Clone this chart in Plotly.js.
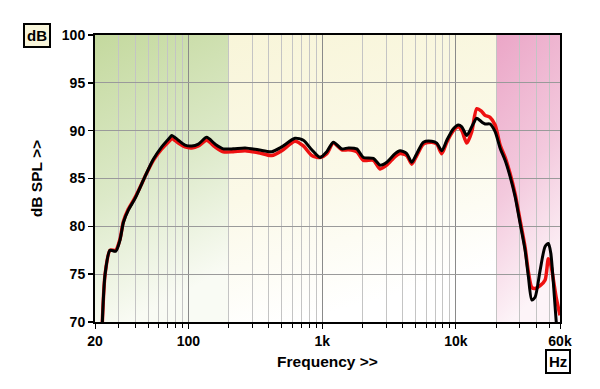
<!DOCTYPE html>
<html>
<head>
<meta charset="utf-8">
<script src="https://cdn.plot.ly/plotly-3.0.1.min.js"></script>
<style>html,body{margin:0;padding:0;background:#fff;}#chart{width:600px;height:389px;}</style>
</head>
<body>
<div id="chart"></div>
<script>
// Frequencies (Hz) sampled along the curves
const freqs = [22.7, 23.8, 25.9, 28.6, 30.8, 32.6, 35.5, 39.8, 45.9, 47.3, 54.6, 63.1, 72.8, 75, 84, 94.2, 105.8, 118.6, 136.8, 158, 182, 216, 265, 333, 419, 498, 626, 723, 836, 964, 1082, 1211, 1400, 1570, 1812, 2032, 2414, 2710, 3040, 3508, 3820, 4286, 4676, 5094, 5712, 6596, 7190, 7836, 8548, 9572, 10432, 11060, 12052, 13132, 14320, 15600, 16520, 17990, 19630, 21380, 23320, 25420, 27700, 30200, 32900, 34840, 36940, 39080, 42600, 46440, 49120, 51200, 53580, 56100, 60000];
// Black curve (dB SPL)
const blackDb = [70.0, 75.0, 77.5, 77.4, 78.6, 80.4, 81.7, 82.9, 84.8, 85.2, 87.0, 88.3, 89.3, 89.5, 89.0, 88.5, 88.4, 88.6, 89.3, 88.6, 88.1, 88.1, 88.2, 88.0, 87.8, 88.3, 89.2, 89.0, 88.0, 87.2, 87.8, 88.8, 88.1, 88.2, 88.1, 87.2, 87.1, 86.4, 86.7, 87.6, 87.9, 87.6, 86.7, 87.6, 88.8, 88.9, 88.7, 87.9, 89.0, 90.2, 90.6, 90.4, 89.5, 90.4, 91.3, 90.9, 90.7, 90.7, 89.9, 88.2, 86.9, 85.2, 83.1, 80.3, 77.5, 74.7, 72.3, 72.6, 75.4, 77.9, 78.2, 77.2, 74.0, 70.2, 66.0];
// Red curve (dB SPL)
const redDb = [70.0, 75.0, 77.5, 77.5, 78.7, 80.5, 81.8, 83.0, 84.8, 85.2, 86.9, 88.1, 89.0, 89.2, 88.7, 88.3, 88.2, 88.4, 89.0, 88.3, 87.8, 87.8, 87.9, 87.7, 87.4, 87.9, 88.9, 88.4, 87.4, 87.2, 87.6, 88.7, 88.0, 88.0, 87.8, 86.9, 86.9, 86.0, 86.4, 87.3, 87.6, 87.4, 86.5, 87.4, 88.6, 88.8, 88.6, 87.6, 88.8, 90.0, 90.4, 90.0, 88.7, 89.9, 92.3, 92.0, 91.6, 91.4, 90.6, 88.5, 87.2, 85.5, 83.4, 80.6, 77.8, 75.2, 73.6, 73.5, 73.8, 74.4, 76.6, 76.0, 74.4, 72.6, 70.7];

// Axis ticks
const xMajorVals = [20, 100, 1000, 10000, 60000];
const xMajorText = ['20', '100', '1k', '10k', '60k'];
const xMinorVals = [30, 40, 50, 60, 70, 80, 90, 200, 300, 400, 500, 600, 700, 800, 900, 2000, 3000, 4000, 5000, 6000, 7000, 8000, 9000, 20000, 30000, 40000, 50000];
const yTickVals = [70, 75, 80, 85, 90, 95, 100];

// Background bands
const bandStart = [20, 200, 20000];
const bandEnd = [200, 20000, 60000];
const bandTop = ['#c4d99e', '#f8f5d9', '#eba6c7'];
const bandMid = ['#dce9c8', '#fbf9e8', '#f3c9dd'];
const bandBottom = ['#f9fbf4', '#ffffff', '#fdf4f8'];

const X0 = Math.log10(20), X1 = Math.log10(60000);
function frac(f) { return (Math.log10(f) - X0) / (X1 - X0); }

let defs = '', rects = '';
for (let i = 0; i < bandStart.length; i++) {
  const a = frac(bandStart[i]) * 1000, b = frac(bandEnd[i]) * 1000;
  defs += `<linearGradient id='g${i}' x1='0' y1='0' x2='0.25' y2='1'><stop offset='0' stop-color='${bandTop[i]}'/><stop offset='0.55' stop-color='${bandMid[i]}'/><stop offset='1' stop-color='${bandBottom[i]}'/></linearGradient>`;
  rects += `<rect x='${a}' y='0' width='${b - a}' height='1000' fill='url(#g${i})'/>`;
}
const svg = `<svg xmlns='http://www.w3.org/2000/svg' width='1000' height='1000' viewBox='0 0 1000 1000' preserveAspectRatio='none'><defs>${defs}</defs>${rects}</svg>`;
const bgSrc = 'data:image/svg+xml;charset=utf-8,' + encodeURIComponent(svg);

const FONT = '"Liberation Sans", Arial, sans-serif';

const traces = [
  { x: freqs, y: redDb, type: 'scatter', mode: 'lines', line: { color: '#ee1111', width: 3.5, shape: 'spline', smoothing: 0.7 }, hoverinfo: 'skip' },
  { x: freqs, y: blackDb, type: 'scatter', mode: 'lines', line: { color: '#000000', width: 3, shape: 'spline', smoothing: 0.7 }, hoverinfo: 'skip' }
];

const layout = {
  width: 600, height: 389,
  margin: { l: 95, r: 40, t: 35, b: 67 },
  paper_bgcolor: '#ffffff',
  plot_bgcolor: 'rgba(0,0,0,0)',
  showlegend: false,
  font: { family: FONT, color: '#000' },
  xaxis: {
    type: 'log',
    range: [X0, X1],
    tickvals: xMajorVals,
    ticktext: xMajorText,
    ticks: 'outside', ticklen: 5, tickwidth: 1, tickcolor: '#000',
    tickfont: { family: FONT, size: 14, weight: 'bold' },
    showgrid: true, gridcolor: '#8a8a8a', gridwidth: 1,
    minor: { tickvals: xMinorVals, ticks: 'outside', ticklen: 4, tickcolor: '#000', showgrid: true, gridcolor: '#c4c4c4', gridwidth: 1 },
    showline: true, linecolor: '#000', linewidth: 2, mirror: true,
    zeroline: false,
    title: { text: 'Frequency >>', font: { family: FONT, size: 15.5, weight: 'bold' }, standoff: 8 },
    fixedrange: true
  },
  yaxis: {
    range: [70, 100],
    tickvals: yTickVals,
    ticks: 'outside', ticklen: 5, tickwidth: 1.5, tickcolor: '#000',
    tickfont: { family: FONT, size: 14, weight: 'bold' },
    showgrid: true, gridcolor: '#9a9a9a', gridwidth: 1,
    showline: true, linecolor: '#000', linewidth: 2, mirror: true,
    zeroline: false,
    title: { text: 'dB SPL >>', font: { family: FONT, size: 15.5, weight: 'bold' }, standoff: 15 },
    fixedrange: true
  },
  images: [{
    source: bgSrc, xref: 'paper', yref: 'paper', x: 0, y: 1, sizex: 1, sizey: 1,
    xanchor: 'left', yanchor: 'top', sizing: 'stretch', layer: 'below'
  }],
  annotations: [
    { text: '<b>dB</b>', xref: 'paper', yref: 'paper', x: -0.124, y: 1.0, xanchor: 'center', yanchor: 'middle', showarrow: false,
      font: { family: FONT, size: 15, color: '#000' }, bgcolor: '#f8f5da', bordercolor: '#000', borderwidth: 2, borderpad: 2 },
    { text: '<b>Hz</b>', xref: 'paper', yref: 'paper', x: 0.996, y: -0.136, xanchor: 'center', yanchor: 'middle', showarrow: false,
      font: { family: FONT, size: 15, color: '#000' }, bgcolor: '#ffffff', bordercolor: '#000', borderwidth: 2, borderpad: 2 }
  ]
};

Plotly.newPlot('chart', traces, layout, { staticPlot: true, displayModeBar: false });
</script>
</body>
</html>
